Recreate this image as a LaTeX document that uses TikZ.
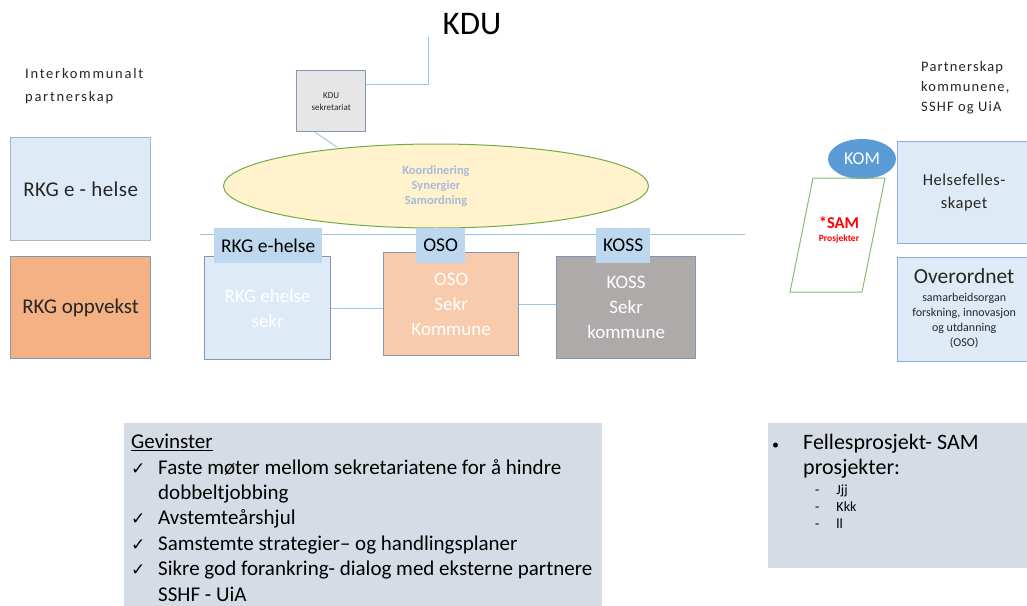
\documentclass[tikz,border=0pt]{standalone}
\usepackage{fontspec}
\setmainfont{Carlito}
\newfontfamily\symfont{DejaVu Sans}
\usetikzlibrary{shapes.geometric}
\definecolor{lineblue}{HTML}{9DC3E6}
\definecolor{bordblue}{HTML}{8497B0}
\definecolor{lightblue}{HTML}{DEEBF7}
\definecolor{tabblue}{HTML}{BDD7EE}
\definecolor{peach}{HTML}{F8CBAD}
\definecolor{orangefill}{HTML}{F4B183}
\definecolor{kossgray}{HTML}{AEAAAA}
\definecolor{ellfill}{HTML}{FFF2CC}
\definecolor{ellgreen}{HTML}{70AD47}
\definecolor{coordtext}{HTML}{A9BBDA}
\definecolor{komblue}{HTML}{5B9BD5}
\definecolor{panel}{HTML}{D6DCE5}
\definecolor{kdugray}{HTML}{E7E6E6}
\definecolor{hfborder}{HTML}{8FAADC}
\definecolor{samred}{HTML}{FF0000}
\definecolor{txt}{HTML}{262626}
\newcommand{\chk}{\makebox[27pt][l]{\symfont\fontsize{17}{17}\selectfont ✓}}
\tikzset{
  conn/.style={draw=lineblue, line width=0.9pt},
  boxnw/.style={anchor=north west, inner sep=0pt, align=center, line width=1.3pt},
  tabbox/.style={anchor=north west, inner sep=0pt, fill=tabblue, font=\fontsize{19.5}{20}\selectfont, text=black},
  sekrtext/.style={text=white, font=\fontsize{19}{25}\selectfont},
}
\begin{document}
\begin{tikzpicture}[x=1pt,y=-1pt]
\useasboundingbox (0,0) rectangle (1027,605);
\clip (0,0) rectangle (1027,605);
\fill[white] (0,0) rectangle (1027,605);

% KDU
\node[font=\fontsize{33}{36}\selectfont, text=black] (kdu) at (472,24) {KDU};
\coordinate (kdutail) at (428,37);
\node[boxnw, draw=bordblue, fill=kdugray, minimum width=69pt, minimum height=61pt,
      font=\fontsize{9}{12}\selectfont, text=txt] (kdusek) at (296,70) {KDU\\sekretariat};
\draw[conn] (kdutail) |- ([yshift=16.5pt]kdusek.east);

% ellipse
\draw[conn] ([xshift=19pt]kdusek.south west) -- (337,147) coordinate (ellhit);
\node[ellipse, draw=ellgreen, line width=1pt, fill=ellfill, minimum width=425pt, minimum height=84pt,
      inner sep=0pt, align=center, text=coordtext, font=\bfseries\fontsize{12.5}{15}\selectfont] (coord) at (436,186)
      {Koordinering\\Synergier\\Samordning};

% horizontal line
\coordinate (hl) at (200,234);
\coordinate (hr) at (745,234);
\draw[conn] (hl) -- (hr);

% secretariat boxes
\node[boxnw, draw=bordblue, fill=lightblue, minimum width=126pt, minimum height=103pt, sekrtext] (rkgsekr) at (204,256) {RKG ehelse\\sekr};
\node[boxnw, draw=bordblue, fill=peach, minimum width=135pt, minimum height=103pt, sekrtext] (ososekr) at (383,252) {OSO\\Sekr\\Kommune};
\node[boxnw, draw=bordblue, fill=kossgray, minimum width=139pt, minimum height=102pt, sekrtext] (kosssekr) at (556,256) {KOSS\\Sekr\\kommune};
\draw[conn] (rkgsekr.east) -- (rkgsekr.east -| ososekr.west);
\draw[conn] (ososekr.east) -- (ososekr.east -| kosssekr.west);

% tabs
\node[tabbox, minimum width=108pt, minimum height=35pt] (rkgtab) at (214,228) {RKG e-helse};
\node[tabbox, minimum width=49pt, minimum height=35pt] (osotab) at (416,228) {OSO};
\node[tabbox, minimum width=54pt, minimum height=35pt] (kosstab) at (596,228) {KOSS};

% left column
\node[anchor=north west, inner sep=0pt, align=left, text=txt,
      font=\fontsize{14.5}{23}\selectfont\addfontfeatures{LetterSpace=12}] (ikp) at (25,68) {Interkommunalt\\partnerskap};
\node[boxnw, draw=bordblue!70, fill=lightblue, minimum width=140pt, minimum height=103pt,
      font=\fontsize{21}{22}\selectfont\addfontfeatures{LetterSpace=2}, text=txt] (rkgeh) at (10,137) {RKG e - helse};
\node[boxnw, draw=bordblue, fill=orangefill, minimum width=140pt, minimum height=102pt,
      font=\fontsize{21}{22}\selectfont, text=txt] (rkgopp) at (10,256) {RKG oppvekst};

% right column
\node[anchor=north west, inner sep=0pt, align=left, text=txt,
      font=\fontsize{14.5}{20}\selectfont\addfontfeatures{LetterSpace=8}] (pkom) at (921,61) {Partnerskap\\kommunene,\\SSHF og UiA};
\node[ellipse, fill=komblue, minimum width=68pt, minimum height=40pt, inner sep=0pt,
      text=white, font=\fontsize{18}{20}\selectfont] (kom) at (862,159) {KOM};
\draw[draw=ellgreen!80, line width=1pt] (813,178) -- (885,178) -- (862,292) -- (790,292) -- cycle;
\node[align=center, text=samred, inner sep=0pt, font=\bfseries\fontsize{16.5}{15}\selectfont] (sam) at (839,230)
      {*SAM\\[-2pt]\fontsize{9.5}{11}\selectfont Prosjekter};
\node[boxnw, draw=hfborder, fill=lightblue, minimum width=133pt, minimum height=102pt,
      font=\fontsize{16.5}{23}\selectfont\addfontfeatures{LetterSpace=3}, text=txt] (hfs) at (897,141) {Helsefelles-\\skapet};
\node[boxnw, draw=hfborder, fill=lightblue, minimum width=133pt, minimum height=104pt, text=txt,
      font=\fontsize{21.5}{24}\selectfont] (oso) at (897,257)
      {Overordnet\\[-6pt]
       \fontsize{12}{15}\selectfont\begin{tabular}[t]{@{}c@{}}samarbeidsorgan\\forskning, innovasjon\\og utdanning\\(OSO)\end{tabular}};

% bottom panels
\node[anchor=north west, inner sep=0pt, fill=panel, minimum width=478pt, minimum height=190pt] (gev) at (124,423) {};
\node[anchor=north west, inner sep=0pt, align=left, text=black, font=\fontsize{21}{25.4}\selectfont] (gevtext) at (131,434)
 {\underline{Gevinster}\\
  \chk Faste møter mellom sekretariatene for å hindre\\
  \hspace*{27pt}dobbeltjobbing\\
  \chk Avstemteårshjul\\
  \chk Samstemte strategier– og handlingsplaner\\
  \chk Sikre god forankring- dialog med eksterne partnere\\
  \hspace*{27pt}SSHF - UiA};

\node[anchor=north west, inner sep=0pt, fill=panel, minimum width=262pt, minimum height=145pt] (fpanel) at (768,423) {};
\node[anchor=north west, inner sep=0pt, align=left, text=black, font=\fontsize{22}{25}\selectfont] (ftext) at (772,434)
 {\makebox[31pt][l]{\fontsize{14}{14}\selectfont •}Fellesprosjekt- SAM\\
  \hspace*{31pt}prosjekter:};
\node[anchor=north west, inner sep=0pt, text=black, font=\fontsize{14}{17}\selectfont] (fsub) at (815,482)
 {\begin{tabular}{@{}l@{\hspace{17pt}}l@{}}-&Jjj\\-&Kkk\\-&ll\end{tabular}};
\end{tikzpicture}
\end{document}
